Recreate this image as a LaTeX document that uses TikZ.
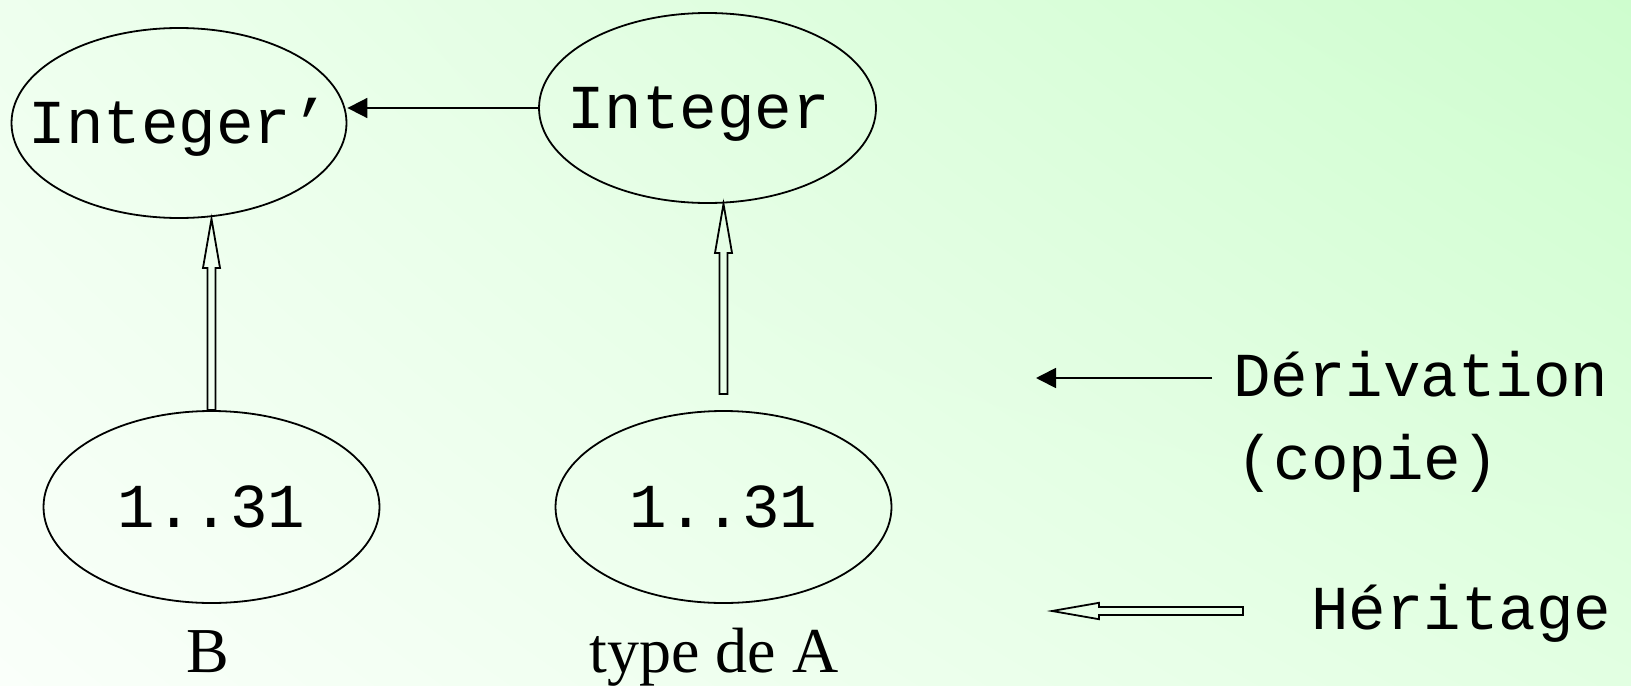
\documentclass[tikz,border=0pt]{standalone}
\usepackage{fontspec}
\setmainfont{Liberation Serif}
\setmonofont{Liberation Mono}
\usetikzlibrary{shapes.geometric,arrows.meta,calc,shadings}
\definecolor{bgUL}{HTML}{EEFFEE}
\definecolor{bgUR}{HTML}{CEFDCE}
\definecolor{bgLL}{HTML}{FAFFFA}
\definecolor{bgLR}{HTML}{E2FFE2}
\newcommand{\hollowup}[2]{%
  \draw[hollow] (#2) -- ($(#2)+(8.5,-49)$) -- ($(#2)+(4,-49)$) -- ($(#1)+(4,0)$)
    -- ($(#1)+(-4,0)$) -- ($(#2)+(-4,-49)$) -- ($(#2)+(-8.5,-49)$) -- cycle;}
\newcommand{\hollowleft}[2]{%
  \draw[hollow] (#2) -- ($(#2)+(47,8.2)$) -- ($(#2)+(47,4)$) -- ($(#1)+(0,4)$)
    -- ($(#1)+(0,-4)$) -- ($(#2)+(47,-4)$) -- ($(#2)+(47,-8.2)$) -- cycle;}
\begin{document}
\begin{tikzpicture}[x=0.5pt,y=0.5pt,
  ell/.style={draw, ellipse, line width=0.9pt, inner sep=0pt},
  mono/.style={font=\fontsize{31.25pt}{37pt}\selectfont\ttfamily, text height=20pt, text depth=0pt, inner sep=0pt},
  serif/.style={font=\fontsize{32pt}{38pt}\selectfont, inner sep=0pt, anchor=base},
  deriv/.style={line width=0.9pt, -{Triangle[length=10pt,width=10pt]}},
  hollow/.style={line width=0.9pt, line join=miter}]
\shade[upper left=bgUL, upper right=bgUR, lower left=bgLL, lower right=bgLR] (0,-685) rectangle (1631,0);
\useasboundingbox (0,-685) rectangle (1631,0);

\node[ell, minimum width=167.5pt, minimum height=95pt, label={[mono]center:Integer’}] (ip) at (179,-123) {};
\node[ell, minimum width=168.5pt, minimum height=95pt, label={[mono, xshift=-4.5pt]center:Integer}] (i) at (707.5,-108) {};
\node[ell, minimum width=168pt, minimum height=96pt, label={[mono]center:1..31}] (b1) at (211.5,-507) {};
\node[ell, minimum width=168pt, minimum height=96pt, label={[mono]center:1..31}] (a1) at (723.5,-507) {};

\node[serif] (lb) at (208,-672) {B};
\node[serif] (la) at (714,-672) {type de A};

\draw[deriv] (i.west) -- (i.west -| ip.east);

\coordinate (lt) at (b1.north |- ip.south);
\hollowup{b1.north}{lt}
\coordinate (rs) at (723.5,-394);
\coordinate (rt) at (rs |- i.south);
\hollowup{rs}{rt}

\coordinate (ds) at (1212,-378);
\coordinate (dt) at (1036,-378);
\draw[deriv] (ds) -- (dt);
\node[mono, anchor=base west] (dtext) at (1233,-396) {Dérivation};
\node[mono, anchor=base west] (ctext) at (1236,-479) {(copie)};

\coordinate (hs) at (1243,-611);
\coordinate (ht) at (1052,-611);
\hollowleft{hs}{ht}
\node[mono, anchor=base west] (htext) at (1311,-629) {Héritage};
\end{tikzpicture}
\end{document}
